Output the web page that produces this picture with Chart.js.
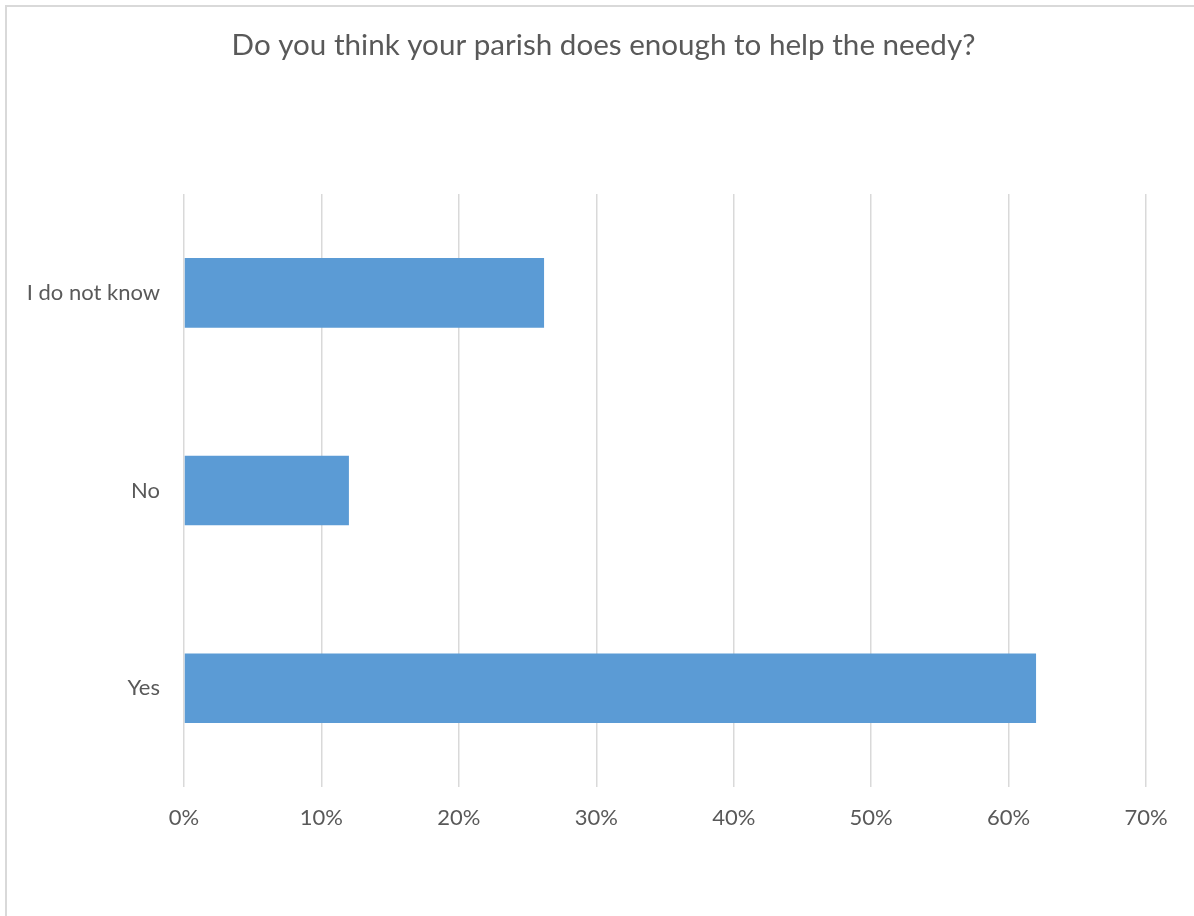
<!DOCTYPE html>
<html>
<head>
<meta charset="utf-8">
<script src="https://cdn.jsdelivr.net/npm/chart.js@4"></script>
<style>
  html, body { margin: 0; padding: 0; background: #fff; overflow: hidden; }
  #wrap { position: relative; width: 1194px; height: 916px; }
  #frame { position: absolute; left: 5px; top: 5px; width: 1400px; height: 1100px;
           border-left: 2px solid #d9d9d9; border-top: 2px solid #d9d9d9; pointer-events: none; }
  canvas { position: absolute; left: 0; top: 0; }
</style>
</head>
<body>
<div id="wrap">
  <canvas id="c" width="1194" height="916"></canvas>
  <div id="frame"></div>
</div>
<script>
const titleText = 'Do you think your parish does enough to help the needy?';
const categories = ['I do not know', 'No', 'Yes'];
const percentValues = [26.2, 12.0, 62.0];
const tickMax = 70;
const tickStep = 10;

const textColor = '#595959';
const gridColor = '#d9d9d9';
const barColor = '#5B9BD5';

new Chart(document.getElementById('c'), {
  type: 'bar',
  data: {
    labels: categories,
    datasets: [{
      data: percentValues,
      backgroundColor: barColor,
      borderWidth: 0,
      categoryPercentage: 1,
      barPercentage: 0.352
    }]
  },
  options: {
    indexAxis: 'y',
    responsive: false,
    animation: false,
    devicePixelRatio: 1,
    layout: { padding: { left: 13, right: 0, top: 0, bottom: 0 } },
    plugins: {
      legend: { display: false },
      tooltip: { enabled: false },
      title: {
        display: true,
        text: titleText,
        color: textColor,
        font: { family: 'Lato', size: 29.6, weight: 'normal' },
        padding: { top: 27.5, bottom: 131 }
      }
    },
    scales: {
      x: {
        min: 0,
        max: tickMax,
        ticks: {
          stepSize: tickStep,
          color: textColor,
          font: { family: 'Lato', size: 22 },
          padding: 18,
          callback: v => v + '%'
        },
        grid: { color: gridColor, lineWidth: 1.5, drawTicks: false },
        border: { display: false },
        afterFit: s => { s.height = 129; }
      },
      y: {
        ticks: {
          color: textColor,
          font: { family: 'Lato', size: 22 },
          padding: 24
        },
        grid: { display: false, drawTicks: false },
        border: { display: false },
        afterFit: s => { s.width = 171; }
      },
      yR: {
        type: 'linear',
        position: 'right',
        display: true,
        ticks: { display: false },
        grid: { display: false, drawTicks: false },
        border: { display: false },
        afterFit: s => { s.width = 48; }
      }
    }
  }
});
</script>
</body>
</html>
